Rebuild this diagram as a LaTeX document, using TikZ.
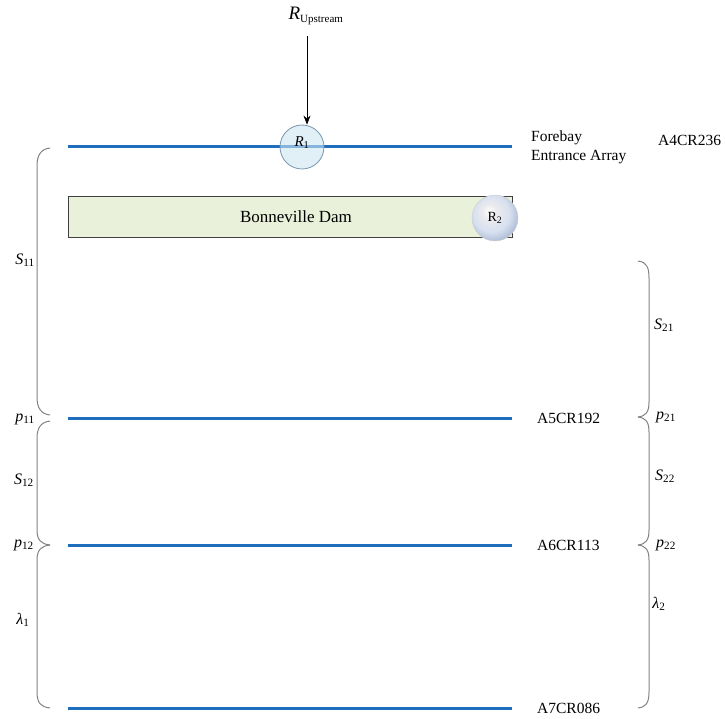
\documentclass[tikz,border=0pt]{standalone}
\usepackage{fontspec}
\setmainfont{Liberation Serif}
\usetikzlibrary{arrows.meta,shadings}
\definecolor{lineblue}{RGB}{31,110,190}
\definecolor{damfill}{RGB}{234,241,218}
\definecolor{circfill}{RGB}{205,228,242}
\definecolor{circdraw}{RGB}{120,150,175}
\definecolor{bracegray}{RGB}{130,130,130}
\pgfdeclareradialshading{lightball}{\pgfpoint{-7bp}{8bp}}{%
  color(0bp)=(white); color(8bp)=(white!85!blue!30!gray!20);
  color(20bp)=(rgb,255:red,215;green,224;blue,240);
  color(30bp)=(rgb,255:red,170;green,185;blue,212);
  color(34bp)=(rgb,255:red,150;green,165;blue,195);
  color(50bp)=(rgb,255:red,150;green,165;blue,195)}
\newcommand{\lbl}[2]{{\itshape #1}\textsubscript{#2}}
\begin{document}
\begin{tikzpicture}[x=1pt,y=-1pt,
  station/.style={draw=lineblue,line width=3pt},
  sitelabel/.style={anchor=west,inner sep=0pt,font=\fontsize{15.5}{18}\selectfont},
  param/.style={inner sep=0pt,font=\fontsize{16}{18}\selectfont},
  bracket/.style={draw=bracegray,line width=1pt}]
\useasboundingbox (0,0) rectangle (725,719);
% station lines
\coordinate (l1a) at (68,147); \coordinate (l1b) at (512,147);
\coordinate (l2a) at (68,418); \coordinate (l2b) at (512,418);
\coordinate (l3a) at (68,545); \coordinate (l3b) at (512,545);
\coordinate (l4a) at (68,708); \coordinate (l4b) at (512,708);
\draw[station] (l1a) -- (l1b);
\draw[station] (l2a) -- (l2b);
\draw[station] (l3a) -- (l3b);
\draw[station] (l4a) -- (l4b);
% R1 circle
\node[circle,minimum size=44pt,fill=circfill,fill opacity=0.6,draw=circdraw,line width=0.8pt,inner sep=0pt] (r1) at (302,147) {};
\node[inner sep=0pt,font=\fontsize{15}{17}\selectfont] (r1t) at (302,143) {\lbl{R}{1}};
% upstream
\node[inner sep=0pt,font=\fontsize{19}{21}\selectfont] (rup) at (316,16) {\lbl{R}{\fontsize{11}{12}\selectfont Upstream}};
\draw[-{Stealth[length=9pt,width=7pt]},line width=0.7pt] (307,36) -- (r1.north -| 307,0);
% dam
\node[draw=black!75,fill=damfill,minimum width=444pt,minimum height=41pt,inner sep=0pt,font=\fontsize{17}{19}\selectfont] (dam) at (290,217) {\hspace*{12pt}Bonneville Dam};
\node[circle,minimum size=46pt,shading=lightball,draw=black!20,line width=0.4pt,inner sep=0pt,font=\fontsize{14}{16}\selectfont] (r2) at (495,218) {R\textsubscript{2}};
% site labels
\node[sitelabel,anchor=north west] (fore) at (531,131) {Forebay};
\node[sitelabel,anchor=north west] (entr) at (531,150) {Entrance Array};
\node[sitelabel] (a4) at (658,140) {A4CR236};
\node[sitelabel] (a5) at (537,418) {A5CR192};
\node[sitelabel] (a6) at (537,545) {A6CR113};
\node[sitelabel] (a7) at (537,708) {A7CR086};
% left brackets
\draw[bracket] (50,148) .. controls (41,149) and (37,155) .. (37,166) -- (37,397) .. controls (37,408) and (41,414) .. (50,415);
\draw[bracket] (50,421) .. controls (41,422) and (37,428) .. (37,438) -- (37,530) .. controls (37,540) and (41,544) .. (50,545);
\draw[bracket] (50,545) .. controls (41,546) and (37,550) .. (37,560) -- (37,692) .. controls (37,703) and (41,707) .. (50,708);
% right brackets
\draw[bracket] (638,261) .. controls (647,262) and (649,268) .. (649,278) -- (649,402) .. controls (649,412) and (646,416) .. (638,417);
\draw[bracket] (638,417) .. controls (646,418) and (649,422) .. (649,432) -- (649,530) .. controls (649,540) and (646,544) .. (638,545);
\draw[bracket] (638,545) .. controls (646,546) and (649,550) .. (649,560) -- (649,692) .. controls (649,703) and (646,707) .. (638,708);
% parameter labels
\node[param] (s11) at (25,260) {\lbl{S}{11}};
\node[param] (p11) at (25,419) {\lbl{p}{11}};
\node[param] (s12) at (24,480) {\lbl{S}{12}};
\node[param] (p12) at (24,545) {\lbl{p}{12}};
\node[param] (lam1) at (23,620) {\lbl{λ}{1}};
\node[param] (s21) at (664,325) {\lbl{S}{21}};
\node[param] (p21) at (666,417) {\lbl{p}{21}};
\node[param] (s22) at (665,476) {\lbl{S}{22}};
\node[param] (p22) at (666,545) {\lbl{p}{22}};
\node[param] (lam2) at (659,604) {\lbl{λ}{2}};
\end{tikzpicture}
\end{document}
